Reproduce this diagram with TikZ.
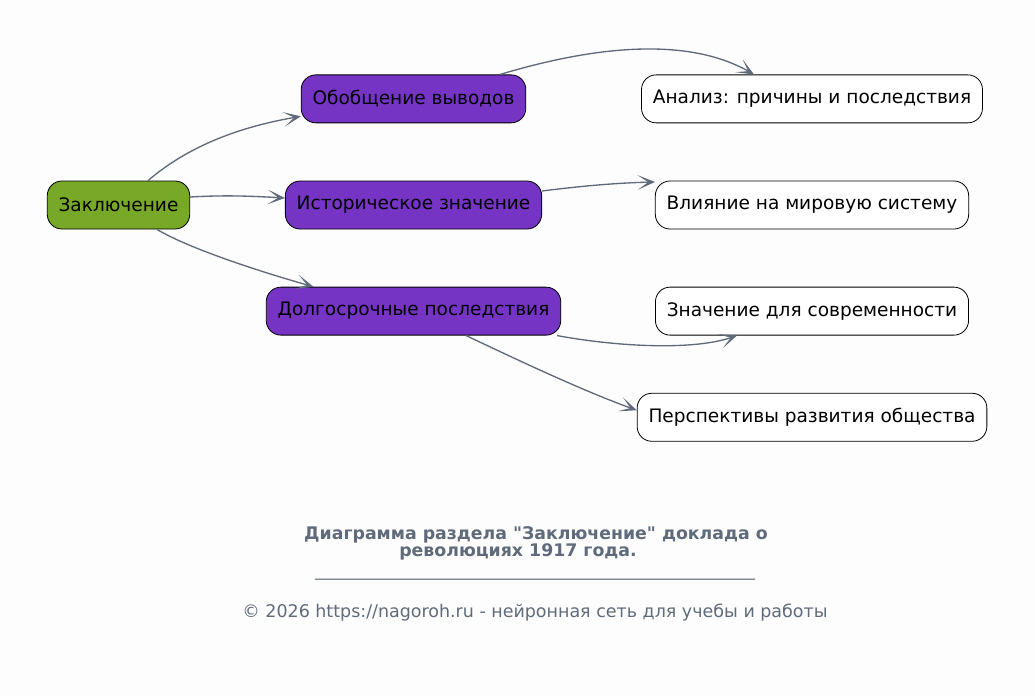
\documentclass[tikz,border=0pt]{standalone}
\usepackage{fontspec}
\setmainfont{DejaVu Sans}
\usepackage{xcolor}
\usetikzlibrary{positioning,arrows.meta}

\definecolor{bgcol}{HTML}{FDFDFD}
\definecolor{edgecol}{HTML}{5F6B7A}
\definecolor{rootcol}{HTML}{77A828}
\definecolor{subcol}{HTML}{7634C5}

\begin{document}
\begin{tikzpicture}[x=0.75pt, y=-0.75pt, node distance=43pt,
  box/.style={draw, rounded corners=11pt, align=center, font=\fontsize{13.9}{16}\selectfont,
              minimum height=36pt, inner xsep=8.5pt, line width=0.6pt},
  root/.style={box, fill=rootcol},
  sub/.style={box, fill=subcol},
  leaf/.style={box, fill=white},
  edge/.style={->, draw=edgecol, line width=1pt},
  >={Stealth[length=13pt, width=11pt, inset=8pt]}]
\fill[bgcol] (0,0) rectangle (1035,696);
\node[root] (zakl) at (118.5,205) {Заключение};
\node[sub] (istor) at (413.5,205) {Историческое значение};
\node[sub, above=of istor] (obob) {Обобщение выводов};
\node[sub, below=of istor] (dolg) {Долгосрочные последствия};
\node[leaf] (vliyan) at (812,205) {Влияние на мировую систему};
\node[leaf, above=of vliyan] (analiz) {Анализ: причины и последствия};
\node[leaf, below=of vliyan] (sovrem) {Значение для современности};
\node[leaf, below=of sovrem] (persp) {Перспективы развития общества};
\draw[edge] ([shift={(29.5,0)}]zakl.north) .. controls +(35,-30) and +(-70,12) .. ([shift={(0,17.5)}]obob.west);
\draw[edge] ([shift={(0,-8)}]zakl.east) .. controls +(35,-2) and +(-35,-2) .. ([shift={(0,-7)}]istor.west);
\draw[edge] ([shift={(38.5,0)}]zakl.south) .. controls +(30,18) and +(-60,-17) .. ([shift={(-100,0)}]dolg.north);
\draw[edge] ([shift={(86.5,0)}]obob.north) .. controls +(120,-36) and +(-54,-31) .. ([shift={(-58,0)}]analiz.north);
\draw[edge] ([shift={(0,-14)}]istor.east) .. controls +(40,-5) and +(-40,1) .. ([shift={(0,-23)}]vliyan.west);
\draw[edge] ([shift={(143.5,0)}]dolg.south) .. controls +(53,10) and +(-47,16) .. ([shift={(-75,0)}]sovrem.south);
\draw[edge] ([shift={(52.5,0)}]dolg.south) .. controls +(55,26) and +(-55,-20) .. ([shift={(0,-7)}]persp.west);
\node[text=edgecol, align=center, font=\bfseries\fontsize{13}{12.75}\selectfont] (title) at (536,543)
  {Диаграмма раздела \textquotedbl Заключение\textquotedbl{} доклада о\\революциях 1917 года.\hspace*{27pt}};
\node[text=edgecol, font=\fontsize{12}{13}\selectfont] (rule) at (535,578) {\_\_\_\_\_\_\_\_\_\_\_\_\_\_\_\_\_\_\_\_\_\_\_\_\_\_\_\_\_\_\_\_\_\_\_\_\_\_\_\_\_\_\_\_\_\_\_\_\_\_\_\_\_\_\_};
\node[text=edgecol, font=\fontsize{13.1}{15}\selectfont] (footer) at (535,613) {© 2026 https://nagoroh.ru - нейронная сеть для учебы и работы};
\end{tikzpicture}
\end{document}
